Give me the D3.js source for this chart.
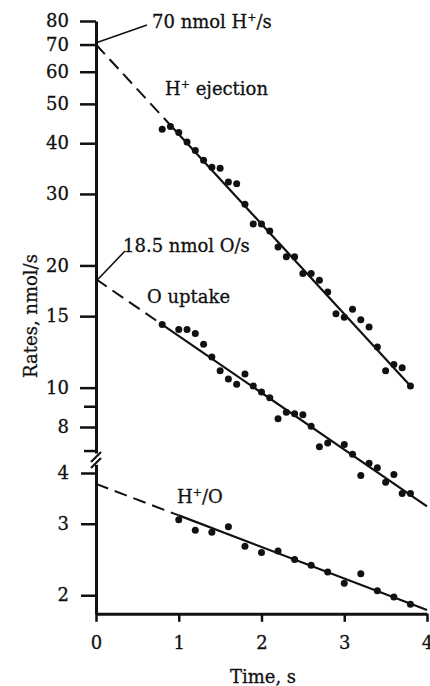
<html lang="en">
<head>
  <meta charset="UTF-8">
  <title>Rates vs time</title>
  <script src="https://d3js.org/d3.v7.min.js"></script>
</head>
<style>
  body { margin: 0; background: #fff; }
  svg text { font-family: "DejaVu Serif", serif; fill: #111; stroke: #111; stroke-width: 0.3; }
  .axis .domain { stroke: #111; stroke-width: 3; }
  .axis line { stroke: #111; stroke-width: 2.5; }
  .axis text { font-size: 18px; }
</style>
<body>
  <svg class="chart" width="430" height="686"></svg>
  <script>
    // H+ ejection, nmol/s
    const hejTime = [0.8, 0.9, 1.0, 1.1, 1.2, 1.3, 1.4, 1.5, 1.6, 1.7, 1.8, 1.9, 2.0, 2.1, 2.2, 2.3,
      2.4, 2.5, 2.6, 2.7, 2.8, 2.9, 3.0, 3.1, 3.2, 3.3, 3.4, 3.5, 3.6, 3.7, 3.8];
    const hejRate = [43.3, 44.0, 42.5, 40.3, 38.4, 36.3, 34.9, 34.7, 32.1, 31.8, 28.3, 25.3, 25.3, 24.3, 22.2, 21.0,
      21.0, 19.1, 19.1, 18.4, 17.2, 15.2, 14.9, 15.6, 14.7, 14.1, 12.6, 11.0, 11.4, 11.2, 10.1];
    // O uptake, nmol/s
    const oTime = [0.8, 1.0, 1.1, 1.2, 1.3, 1.4, 1.5, 1.6, 1.7, 1.8, 1.9, 2.0, 2.1, 2.2, 2.3, 2.4, 2.5,
      2.6, 2.7, 2.8, 3.0, 3.1, 3.2, 3.3, 3.4, 3.5, 3.6, 3.7, 3.8];
    const oRate = [14.3, 13.9, 13.9, 13.6, 12.8, 11.9, 11.0, 10.5, 10.2, 10.8, 10.1, 9.75, 9.45, 8.38, 8.70, 8.63, 8.58,
      8.03, 7.15, 7.31, 7.24, 6.85, 6.08, 6.51, 6.35, 5.85, 6.11, 5.49, 5.49];
    // H+/O ratio
    const hoTime = [1.0, 1.2, 1.4, 1.6, 1.8, 2.0, 2.2, 2.4, 2.6, 2.8, 3.0, 3.2, 3.4, 3.6, 3.8];
    const hoRatio = [3.07, 2.89, 2.86, 2.95, 2.64, 2.55, 2.57, 2.45, 2.37, 2.28, 2.14, 2.26, 2.05, 1.98, 1.90];

    // fitted lines: [time, value]; first segment dashed (extrapolation)
    const hejFit = [[0, 70], [0.9, 44.3], [3.82, 10]];
    const oFit = [[0, 18.5], [0.8, 14.3], [4, 5.1]];
    const hoFit = [[0, 3.76], [1.0, 3.145], [4, 1.84]];

    const xTicks = [0, 1, 2, 3, 4];
    const upperTicks = [8, 10, 15, 20, 30, 40, 50, 60, 70, 80];
    const upperMinor = [7, 9];
    const lowerTicks = [2, 3, 4];

    const svg = d3.select('svg.chart');
    const decade = 406; // px per decade, same for both segments
    const logSpan = (a, b) => decade * Math.log10(a / b);

    const x = d3.scaleLinear().domain([0, 4]).range([96, 427]);
    const yUp = d3.scaleLog().domain([80, 6.9]).range([21, 21 + logSpan(80, 6.9)]);
    const lowTop = 473 - logSpan(4.2, 4);
    const yLow = d3.scaleLog().domain([4.2, 1.8]).range([lowTop, lowTop + logSpan(4.2, 1.8)]);

    // y axis, upper segment
    svg.append('g')
      .attr('class', 'axis')
      .attr('transform', `translate(${x(0)},0)`)
      .call(d3.axisLeft(yUp).tickValues(upperTicks).tickSize(16).tickSizeOuter(0).tickPadding(11).tickFormat(d3.format('d')));
    svg.append('g')
      .attr('class', 'axis')
      .attr('transform', `translate(${x(0)},0)`)
      .call(d3.axisLeft(yUp).tickValues(upperMinor).tickSize(12).tickSizeOuter(0).tickFormat(''))
      .call(g => g.select('.domain').remove())
      .call(g => g.selectAll('text').remove());

    // y axis, lower segment
    svg.append('g')
      .attr('class', 'axis')
      .attr('transform', `translate(${x(0)},0)`)
      .call(d3.axisLeft(yLow).tickValues(lowerTicks).tickSize(15).tickSizeOuter(0).tickPadding(12).tickFormat(d3.format('d')));

    // x axis
    svg.append('g')
      .attr('class', 'axis')
      .attr('transform', `translate(0,${yLow(1.8)})`)
      .call(d3.axisBottom(x).tickValues(xTicks).tickSize(8).tickSizeOuter(0).tickPadding(14).tickFormat(d3.format('d')));

    // axis break marks
    const bx = x(0);
    [0, 6].forEach(off => {
      svg.append('line')
        .attr('x1', bx - 5).attr('y1', yUp(6.9) + 9 + off)
        .attr('x2', bx + 5).attr('y2', yUp(6.9) - 1 + off)
        .attr('stroke', '#111').attr('stroke-width', 2.2);
    });

    // fitted lines
    const line = d3.line().x(d => x(d[0]));
    function drawFit(fit, yScale) {
      const l = line.y(d => yScale(d[1]));
      svg.append('path')
        .attr('d', l(fit.slice(0, 2)))
        .attr('fill', 'none').attr('stroke', '#111').attr('stroke-width', 2)
        .attr('stroke-dasharray', '13,7');
      svg.append('path')
        .attr('d', l(fit.slice(1)))
        .attr('fill', 'none').attr('stroke', '#111').attr('stroke-width', 2.2);
    }
    drawFit(hejFit, yUp);
    drawFit(oFit, yUp);
    drawFit(hoFit, yLow);

    // points
    function drawDots(ts, vs, yScale) {
      ts.forEach((t, i) => {
        svg.append('circle')
          .attr('cx', x(t))
          .attr('cy', yScale(vs[i]))
          .attr('r', 3.5)
          .style('fill', '#111');
      });
    }
    drawDots(hejTime, hejRate, yUp);
    drawDots(oTime, oRate, yUp);
    drawDots(hoTime, hoRatio, yLow);

    // labels; parts are plain strings, or ['+'] arrays for superscripts
    function label(xp, yp, parts) {
      const t = svg.append('text').attr('x', xp).attr('y', yp).style('font-size', '18px');
      let shift = 0;
      parts.forEach(p => {
        if (Array.isArray(p)) {
          t.append('tspan').attr('dy', -7).style('font-size', '11px').text(p[0]);
          shift = 7;
        } else {
          t.append('tspan').attr('dy', shift).text(p);
          shift = 0;
        }
      });
      return t;
    }

    svg.append('line')
      .attr('x1', x(0) + 1).attr('y1', yUp(70) - 2)
      .attr('x2', 147).attr('y2', 25)
      .attr('stroke', '#111').attr('stroke-width', 1.6);
    label(152, 28, ['70 nmol H', ['+'], '/s']);
    label(165, 95, ['H', ['+'], ' ejection']);

    svg.append('line')
      .attr('x1', x(0) + 2).attr('y1', yUp(18.5))
      .attr('x2', 125).attr('y2', 251)
      .attr('stroke', '#111').attr('stroke-width', 1.6);
    label(123, 252, ['18.5 nmol O/s']);
    label(147, 303, ['O uptake']);
    label(177, 503, ['H', ['+'], '/O']);

    svg.append('text')
      .attr('x', 263).attr('y', 683)
      .attr('text-anchor', 'middle')
      .style('font-size', '18px')
      .text('Time, s');

    svg.append('text')
      .attr('transform', 'translate(37,316) rotate(-90)')
      .attr('text-anchor', 'middle')
      .style('font-size', '18px')
      .text('Rates, nmol/s');
  </script>
</body>
</html>
